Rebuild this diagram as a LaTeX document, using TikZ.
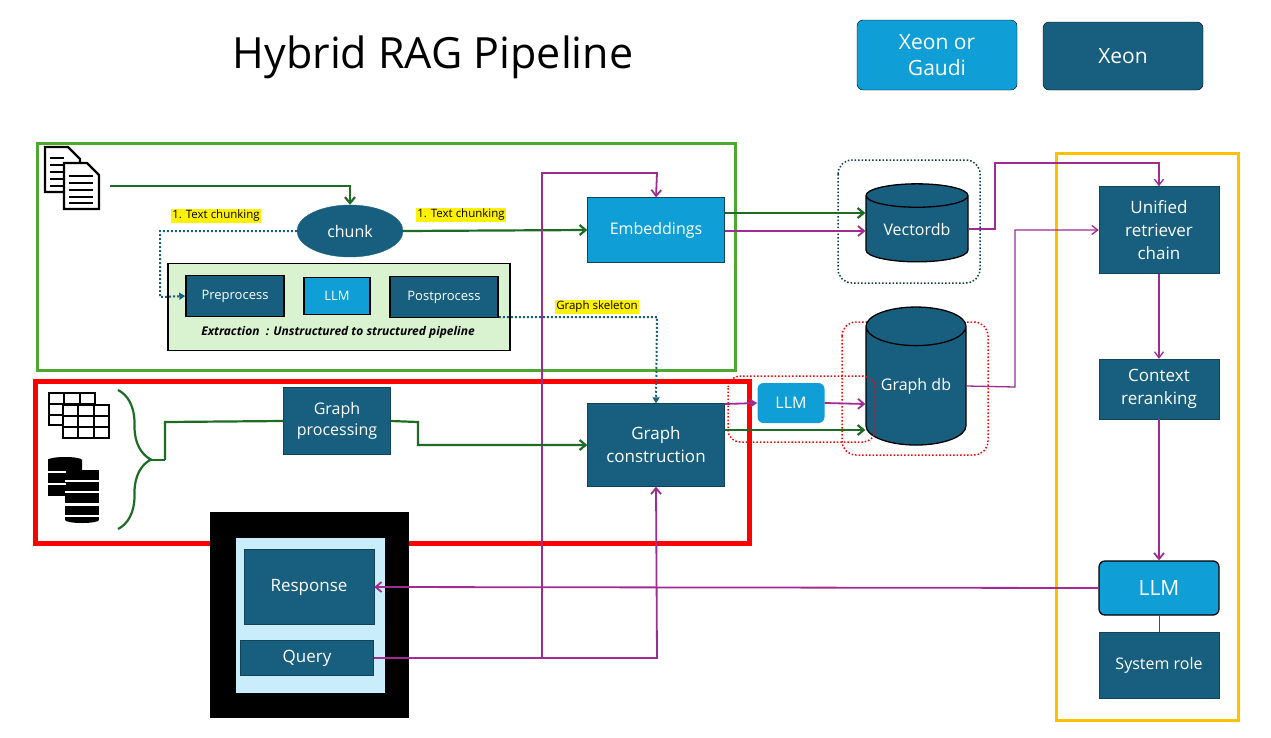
\documentclass[tikz,border=0pt]{standalone}
\usepackage{fontspec}
\setmainfont{Open Sans}
\usetikzlibrary{shapes.geometric,arrows.meta,decorations.pathreplacing}
\definecolor{dk}{RGB}{24,95,127}
\definecolor{lb}{RGB}{15,158,213}
\definecolor{pu}{RGB}{160,43,147}
\definecolor{gr}{RGB}{30,107,36}
\definecolor{fg}{RGB}{78,167,46}
\definecolor{og}{RGB}{255,192,0}
\definecolor{exg}{RGB}{217,242,208}
\definecolor{qb}{RGB}{202,237,251}
\begin{document}
\begin{tikzpicture}[x=1pt,y=-1pt,
  box/.style={draw=dk!70!black,fill=dk,text=white,align=center,font=\fontsize{16}{21}\selectfont,inner sep=0pt},
  lbox/.style={box,fill=lb},
  pa/.style={draw=pu,line width=1.8pt,-{Straight Barb[length=6pt,width=10pt]}},
  pl/.style={draw=pu,line width=1.8pt},
  ga/.style={draw=gr,line width=2.2pt,-{Straight Barb[length=6pt,width=10pt]}},
  gl/.style={draw=gr,line width=2.2pt},
  da/.style={draw=dk,line width=2pt,dotted,-{Triangle[length=6pt,width=7pt]}},
  hl/.style={fill=yellow,inner sep=1pt,font=\fontsize{11.5}{13}\selectfont},
  cyl/.style={cylinder,shape border rotate=90,draw=black,line width=1.3pt,fill=dk,text=white,font=\fontsize{16}{20}\selectfont,inner sep=0pt,aspect=0.35}]
\useasboundingbox (0,0) rectangle (1271,737);
\node[font=\fontsize{43}{50}\selectfont] (title) at (433,57) {Hybrid RAG Pipeline};
\node[lbox,rounded corners=6pt,draw=black,minimum width=160,minimum height=70,font=\fontsize{21}{26}\selectfont] (xg) at (937,55) {Xeon or\\Gaudi};
\node[box,rounded corners=6pt,draw=black,minimum width=160,minimum height=68,font=\fontsize{21}{26}\selectfont] (xe) at (1123,56) {Xeon};
% frames
\draw[fg,line width=3pt] (37,143) rectangle (735,370);
\draw[og,line width=3pt] (1056,153) rectangle (1238,720);
% doc icon
\begin{scope}[line width=2.2pt]
\draw[fill=white] (45,147) -- (68,147) -- (80,159) -- (80,192) -- (45,192) -- cycle;
\foreach \y in {158,165,172,179,186} \draw (50,\y) -- (64,\y);
\draw[fill=white] (64,163) -- (87,163) -- (99,175) -- (99,209) -- (64,209) -- cycle;
\foreach \y in {176,183,190,197,203} \draw (69,\y) -- (93,\y);
\end{scope}
\coordinate (docr) at (110,186);
% nodes
\node[ellipse,fill=dk,draw=dk,text=white,minimum width=106,minimum height=52,font=\fontsize{16}{20}\selectfont] (chunk) at (350,231) {chunk};
\node[lbox,minimum width=137,minimum height=65] (emb) at (656,230) {Embeddings};
\node[draw=black,line width=1.5pt,fill=exg,minimum width=342,minimum height=87] (ex) at (339,307) {};
\node[box,draw=black,line width=1.5pt,minimum width=98,minimum height=41,font=\fontsize{13}{15}\selectfont] (pre) at (235,296) {Preprocess};
\node[lbox,draw=black,line width=1.5pt,minimum width=66,minimum height=37,font=\fontsize{13}{15}\selectfont] (llm1) at (337,296) {LLM};
\node[box,draw=black,line width=1.5pt,minimum width=108,minimum height=41,font=\fontsize{13}{15}\selectfont] (post) at (444,297) {Postprocess};
\node[font=\bfseries\itshape\fontsize{12}{14}\selectfont] (extxt) at (338,332) {Extraction \ : Unstructured to structured pipeline};
\node[hl] (l1) at (216,216) {1. Text chunking};
\node[hl] (l2) at (461,215) {1. Text chunking};
\node[hl] (l3) at (597,307) {Graph skeleton};
% dbs
\draw[dk!60!black,line width=1.5pt,dotted,rounded corners=14pt] (838,160) rectangle (980,283);
\node[cyl,minimum width=102,minimum height=78] (vdb) at (917,229) {\raisebox{-6pt}{Vectordb}};
\draw[red,line width=1.5pt,dotted,rounded corners=14pt] (842,322) rectangle (988,455);
\node[cyl,minimum width=100,minimum height=138,aspect=0.55] (gdb) at (916,386) {\raisebox{-12pt}{Graph db}};
\draw[red,line width=1.5pt,dotted,rounded corners=12pt] (728,376) rectangle (875,442);
\node[lbox,draw=none,rounded corners=6pt,minimum width=67,minimum height=40] (llm2) at (791,403) {LLM};
\node[box,minimum width=137,minimum height=83,font=\fontsize{17}{23}\selectfont] (gc) at (656,445) {Graph\\construction};
\node[box,minimum width=107,minimum height=67] (gp) at (337,421) {Graph\\processing};
% table icon
\begin{scope}[line width=2.2pt]
\draw[fill=white] (49,393) rectangle (95,425);
\foreach \y in {404,415} \draw (49,\y) -- (95,\y);
\foreach \x in {64,80} \draw (\x,393) -- (\x,425);
\draw[fill=white] (63,405) rectangle (109,438);
\foreach \y in {416,427} \draw (63,\y) -- (109,\y);
\foreach \x in {78,94} \draw (\x,405) -- (\x,438);
\end{scope}
% db icon
\foreach \yy in {0,12,24} {
  \fill[black] (48,462+\yy) rectangle (82,472+\yy);
  \fill[black] (65,482+\yy) rectangle (99,492+\yy);
}
\fill[black] (65,482) ellipse (0pt and 0pt);
\fill[black] (65,470) rectangle (99,482);
\fill[black] (65,494) rectangle (99,504);
\fill[black] (65,506) rectangle (99,516);
\fill[black] (65,516) rectangle (99,520);
\fill[black] (48,472) rectangle (82,474);
\fill[black] (48,484) rectangle (82,486);
\fill[black] (65,492) rectangle (99,494);
\draw[white,line width=1.5pt] (48,472) -- (66,472) (48,484) -- (66,484) (65,492) -- (99,492) (65,504) -- (99,504) (65,516) -- (99,516) (65,481) -- (99,481);
\fill[black] (65,460) ellipse (17pt and 3pt);
\fill[black] (65,459) rectangle (48,470);
\fill[black] (82,459) rectangle (82,470);
\fill[black] (48,460) rectangle (82,470);
\fill[black] (82,520) ellipse (17pt and 3pt);
% brace
\draw[gr,line width=2.2pt,decorate,decoration={brace,amplitude=33pt,aspect=0.5}] (118,390) -- (118,529);
\draw[gl] (151,460) -- (165,460);
\coordinate (br) at (165,460);
% red frame
\draw[red,line width=5pt] (35,381) rectangle (749,543);
% black query box
\fill[black] (210,512) rectangle (409,718);
\node[draw=black,fill=qb,minimum width=150,minimum height=156,inner sep=0pt] (qbx) at (310,615) {};
\node[box,minimum width=130,minimum height=75,font=\fontsize{17}{21}\selectfont] (resp) at (309,587) {Response};
\node[box,minimum width=133,minimum height=35,font=\fontsize{17}{21}\selectfont] (qry) at (307,658) {Query};
% right column
\node[box,minimum width=120,minimum height=87,font=\fontsize{17}{23}\selectfont] (ur) at (1159,230) {Unified\\retriever\\chain};
\node[box,minimum width=120,minimum height=60,font=\fontsize{17}{23}\selectfont] (cr) at (1159,389) {Context\\reranking};
\node[lbox,draw=black,line width=1.3pt,rounded corners=6pt,minimum width=120,minimum height=54,font=\fontsize{21}{24}\selectfont] (llm3) at (1159,588) {LLM};
\node[box,minimum width=120,minimum height=66] (sr) at (1159,665) {System role};
% connectors
\draw[ga] (docr) -- (350,186) -- (chunk.north);
\draw[ga] (chunk.east) -- (emb.west);
\draw[da] (chunk.west) -- (160,231) -- (160,297) -- (pre.west);
\draw[da] (post.east |- 0,317) -- (657,317) -- (gc.north);
\draw[ga] (emb.east |- 0,213) -- (vdb.west |- 0,213);
\draw[pa] (emb.east |- 0,231) -- (vdb.west |- 0,231);
\draw[pl,-{Straight Barb[length=6pt,width=9pt]},line width=1.3pt] (vdb.east) -- (995,229) -- (995,163) -- (1159,163) -- (ur.north);
\draw[pl,-{Straight Barb[length=6pt,width=9pt]},line width=1.3pt] (gdb.east) -- (1015,387) -- (1015,230) -- (ur.west);
\draw[pl,-{Straight Barb[length=6pt,width=9pt]},line width=1.3pt] (ur.south) -- (cr.north);
\draw[pa] (cr.south) -- (llm3.north);
\draw[dk,line width=1pt] (llm3.south) -- (sr.north);
\draw[pa] (llm3.west) -- (resp.east);
\draw[pl] (qry.east) -- (542,658);
\draw[pa] (542,658) -- (542,173) -- (657,173) -- (emb.north);
\draw[pa] (542,658) -- (657,658) -- (gc.south);
\draw[pl,-{Triangle[length=7pt,width=8pt]}] (gc.east |- 0,404) -- (llm2.west);
\draw[pa] (llm2.east) -- (gdb.west |- 0,404);
\draw[ga] (gc.east |- 0,430) -- (gdb.west |- 0,430);
\draw[gl] (br) -- (165,422) -- (gp.west);
\draw[ga] (gp.east) -- (418,422) -- (418,445) -- (gc.west);
\end{tikzpicture}
\end{document}
